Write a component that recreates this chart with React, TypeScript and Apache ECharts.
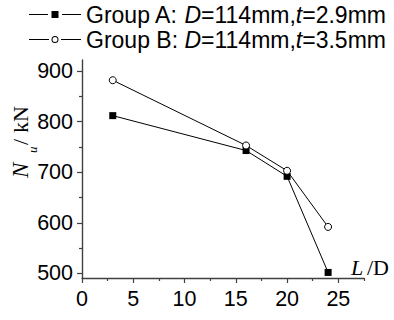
import React, { useEffect, useRef } from "react";
import * as echarts from "echarts";

// Slenderness ratio L/D and ultimate load Nu (kN)
const ratios = [3, 16, 20, 24];
const groupA = [812, 743, 692, 502];
const groupB = [882, 753, 703, 592];

const seriesNames = ["Group A", "Group B"];
const legendParts: Record<string, string[]> = {
  "Group A": ["Group A: ", "D", "=114mm,", "t", "=2.9mm"],
  "Group B": ["Group B: ", "D", "=114mm,", "t", "=3.5mm"],
};

const xMajor = [0, 5, 10, 15, 20, 25];
const xMinor = [2.5, 7.5, 12.5, 17.5, 22.5, 27.5];
const yMajor = [500, 600, 700, 800, 900];
const yMinor = [550, 650, 750, 850];

const SANS = "'Liberation Sans', Arial, sans-serif";
const SERIF = "'Liberation Serif', 'Times New Roman', serif";
const AXIS = "#404040";

// legend icons: line, marker, line
const iconA =
  "path://M0 3H19V4H0Z M22.5 0H29.5V7H22.5Z M33 3H52V4H33Z";
const iconB =
  "path://M0 3H20V4H0Z M22.5 3.5A3.5 3.5 0 1 0 29.5 3.5A3.5 3.5 0 1 0 22.5 3.5Z M23.5 3.5A2.5 2.5 0 1 1 28.5 3.5A2.5 2.5 0 1 1 23.5 3.5Z M32 3H52V4H32Z";

export default function App() {
  const ref = useRef<HTMLDivElement>(null);

  useEffect(() => {
    if (!ref.current) return;
    const chart = echarts.init(ref.current, null, { renderer: "svg" });

    const xAxisBase = { type: "value" as const, min: 0, max: 27.5, position: "bottom" as const };
    const yAxisBase = { type: "value" as const, min: 491, max: 922, position: "left" as const };

    chart.setOption({
      animation: false,
      backgroundColor: "#fff",
      grid: { left: 82, right: 30, top: 60, bottom: 42, containLabel: false },
      legend: {
        orient: "vertical",
        left: 29,
        top: 3,
        padding: 0,
        itemWidth: 52,
        itemHeight: 7,
        itemGap: 2,
        data: [
          { name: seriesNames[0], icon: iconA, itemStyle: { color: "#000", borderWidth: 0 } },
          { name: seriesNames[1], icon: iconB, itemStyle: { color: "#000", borderWidth: 0 } },
        ],
        formatter: (name: string) => {
          const p = legendParts[name];
          return `{n|${p[0]}}{i|${p[1]}}{n|${p[2]}}{i|${p[3]}}{n|${p[4]}}`;
        },
        textStyle: {
          color: "#000",
          fontFamily: SANS,
          fontSize: 23,
          rich: {
            n: { fontFamily: SANS, fontSize: 23, lineHeight: 23, color: "#000" },
            i: { fontFamily: SANS, fontSize: 23, lineHeight: 23, fontStyle: "italic", color: "#000" },
          },
        },
      },
      xAxis: [
        {
          ...xAxisBase,
          axisLine: { show: true, onZero: false, lineStyle: { color: AXIS, width: 1.4 } },
          axisTick: { show: true, length: 5, customValues: xMajor, lineStyle: { color: AXIS, width: 1.2 } },
          axisLabel: {
            customValues: xMajor,
            margin: 10,
            fontFamily: SANS,
            fontSize: 21.5,
            color: "#000",
          },
          splitLine: { show: false },
        },
        {
          ...xAxisBase,
          axisLine: { show: false },
          axisTick: { show: true, length: 3, customValues: xMinor, lineStyle: { color: AXIS, width: 1.2 } },
          axisLabel: { show: false },
          splitLine: { show: false },
        },
      ],
      yAxis: [
        {
          ...yAxisBase,
          axisLine: { show: true, onZero: false, lineStyle: { color: AXIS, width: 1.4 } },
          axisTick: { show: true, length: 5, customValues: yMajor, lineStyle: { color: AXIS, width: 1.2 } },
          axisLabel: {
            customValues: yMajor,
            margin: 9,
            fontFamily: SANS,
            fontSize: 21.5,
            color: "#000",
          },
          splitLine: { show: false },
        },
        {
          ...yAxisBase,
          axisLine: { show: false },
          axisTick: { show: true, length: 3, customValues: yMinor, lineStyle: { color: AXIS, width: 1.2 } },
          axisLabel: { show: false },
          splitLine: { show: false },
        },
      ],
      series: [
        {
          name: seriesNames[0],
          type: "line",
          data: ratios.map((r, i) => [r, groupA[i]]),
          symbol: "rect",
          symbolSize: 7,
          lineStyle: { color: "#000", width: 1 },
          itemStyle: { color: "#000" },
          z: 2,
        },
        {
          name: seriesNames[1],
          type: "line",
          data: ratios.map((r, i) => [r, groupB[i]]),
          symbol: "circle",
          symbolSize: 7,
          lineStyle: { color: "#000", width: 1 },
          itemStyle: { color: "#fff", borderColor: "#000", borderWidth: 1 },
          z: 3,
        },
      ],
      graphic: [
        // y-axis title, reading bottom to top
        {
          type: "group",
          x: 20.5,
          y: 178,
          rotation: Math.PI / 2,
          children: [
            {
              type: "text",
              x: 0,
              y: 0,
              style: { text: "N", font: `italic 23px ${SERIF}`, fill: "#000", align: "left", verticalAlign: "middle" },
            },
            {
              type: "text",
              x: 25,
              y: 12,
              style: { text: "u", font: `italic 13px ${SERIF}`, fill: "#000", align: "left", verticalAlign: "middle" },
            },
            {
              type: "text",
              x: 33,
              y: 0,
              style: { text: "/", font: `22px ${SERIF}`, fill: "#000", align: "left", verticalAlign: "middle" },
            },
            {
              type: "text",
              x: 45,
              y: 0,
              style: { text: "kN", font: `22px ${SERIF}`, fill: "#000", align: "left", verticalAlign: "middle" },
            },
          ],
        },
        // x-axis title
        {
          type: "text",
          x: 351,
          y: 267.5,
          style: { text: "L", font: `italic 22px ${SERIF}`, fill: "#000", align: "left", verticalAlign: "middle" },
        },
        {
          type: "text",
          x: 367,
          y: 267.5,
          style: { text: "/D", font: `22px ${SERIF}`, fill: "#000", align: "left", verticalAlign: "middle" },
        },
      ],
    });

    return () => chart.dispose();
  }, []);

  return <div ref={ref} style={{ width: 394, height: 320, position: "absolute", left: 0, top: 0 }} />;
}
